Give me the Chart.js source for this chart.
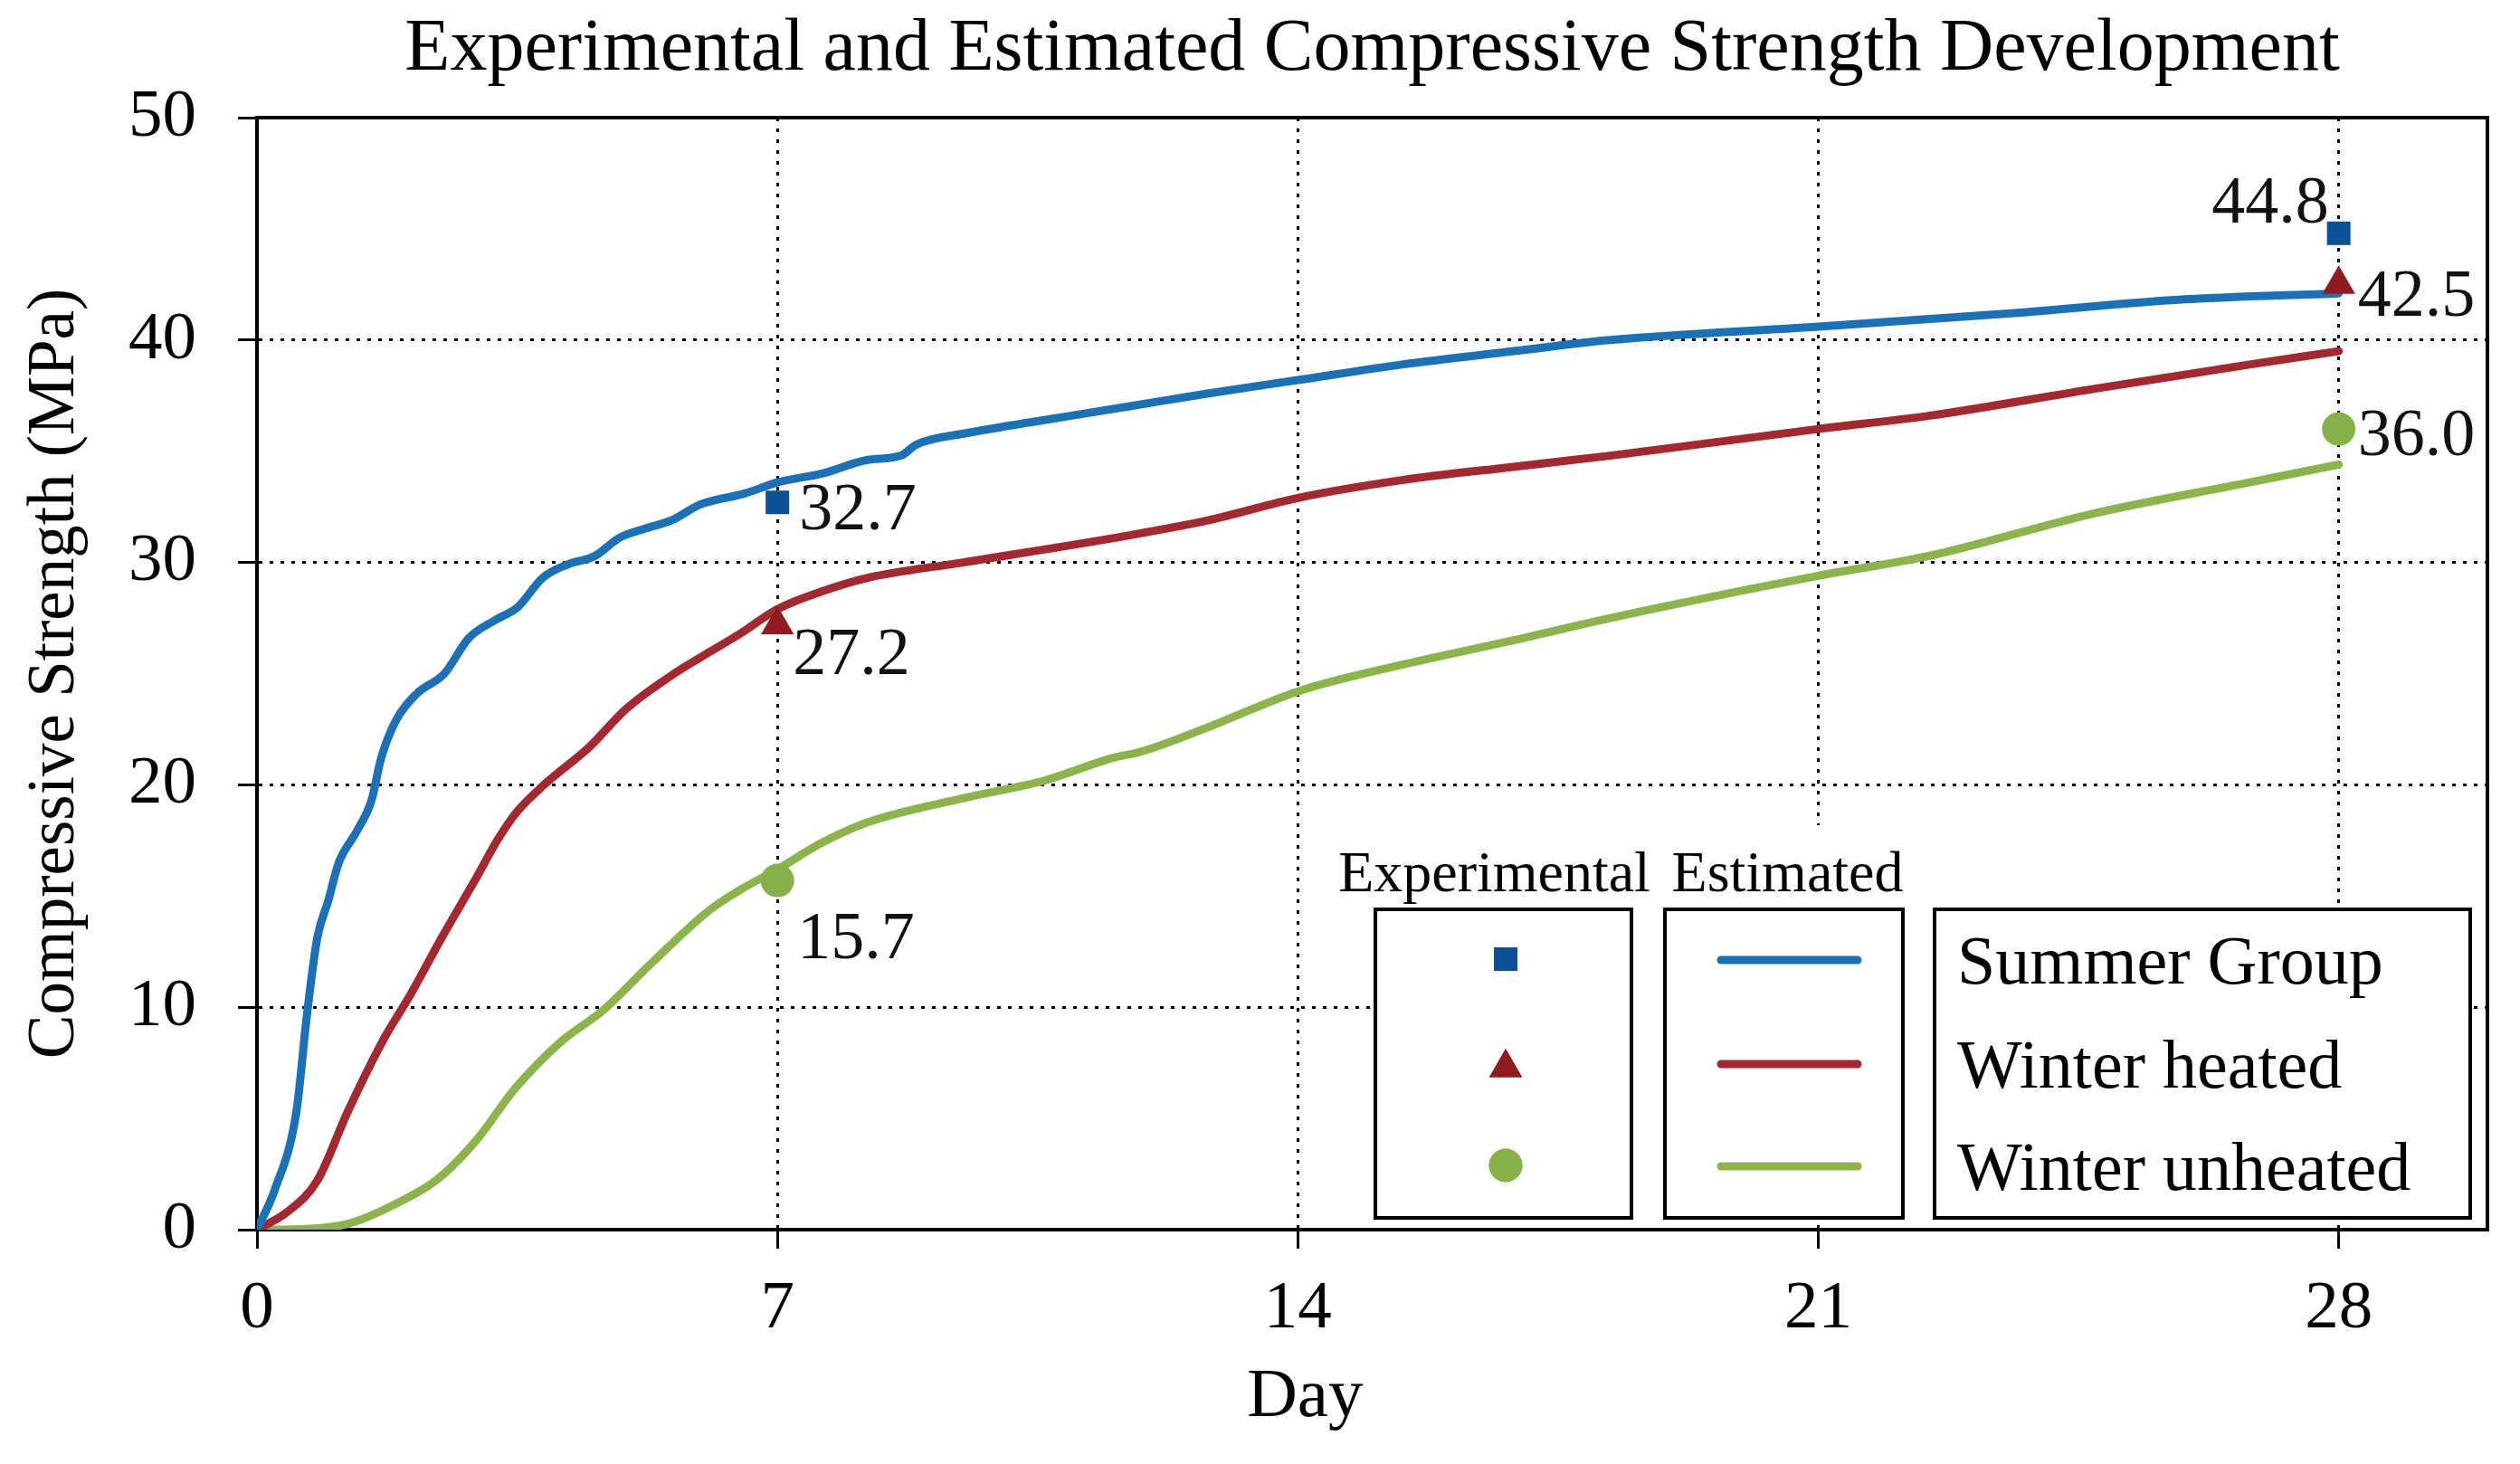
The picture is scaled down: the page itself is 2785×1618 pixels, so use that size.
<!DOCTYPE html>
<html><head><meta charset="utf-8">
<script src="https://cdn.jsdelivr.net/npm/chart.js@4"></script>
<style>html,body{margin:0;padding:0;background:#fff;}canvas{display:block;}</style>
</head><body>
<canvas id="c" width="2785" height="1618"></canvas>
<script>
// ---------- data ----------
const titleText = 'Experimental and Estimated Compressive Strength Development';
const xAxisTitle = 'Day';
const yAxisTitle = 'Compressive Strength (MPa)';
const xTickValues = [0, 7, 14, 21, 28];
const yTickValues = [0, 10, 20, 30, 40, 50];
const seriesNames = ['Summer Group', 'Winter heated', 'Winter unheated'];
const legendHeaders = ['Experimental', 'Estimated'];

const expDays = [7, 28];
const summerExp = [32.7, 44.8];
const heatedExp = [27.2, 42.5];
const unheatedExp = [15.7, 36.0];

const summerDays = [0, 0.24, 0.53, 0.67, 0.81, 0.96, 1.1, 1.34, 1.54, 1.67, 1.87, 2.15, 2.52, 2.85, 3.2, 3.51, 3.84, 4.17, 4.55, 4.87, 5.2, 5.58, 5.96, 6.56, 7.0, 7.6, 8.2, 8.66, 8.87, 9.52, 10.4, 11.7, 12.8, 14, 15.4, 16.9, 18.2, 21, 23.6, 25.8, 28];
const summerEst = [0, 1.8, 5.3, 9.6, 13.1, 14.8, 16.5, 17.9, 19.3, 21.2, 22.9, 24.1, 25.0, 26.6, 27.4, 28.0, 29.3, 29.9, 30.3, 31.1, 31.5, 31.9, 32.6, 33.1, 33.6, 34.0, 34.6, 34.8, 35.3, 35.8, 36.3, 37.0, 37.6, 38.2, 38.9, 39.5, 40.0, 40.6, 41.2, 41.8, 42.1];

const heatedDays = [0, 0.41, 0.81, 1.22, 1.71, 2.07, 2.48, 2.93, 3.25, 3.5, 3.86, 4.47, 4.96, 5.61, 6.1, 6.5, 7.0, 7.6, 8.2, 9.5, 11.7, 12.8, 14, 15.4, 16.9, 18.2, 21, 22.5, 24.7, 26.8, 28];
const heatedEst = [0, 0.8, 2.2, 5.3, 8.6, 10.6, 13.1, 15.7, 17.6, 18.8, 20.0, 21.7, 23.4, 25.0, 26.0, 26.8, 27.9, 28.7, 29.3, 30.0, 31.2, 31.9, 32.9, 33.7, 34.3, 34.8, 36.0, 36.6, 37.8, 38.9, 39.5];

const unheatedDays = [0, 0.6, 1.22, 1.83, 2.44, 2.97, 3.46, 4.07, 4.67, 5.28, 6.1, 6.51, 7.0, 7.6, 8.2, 9.5, 10.6, 11.5, 11.9, 12.8, 14, 15.4, 16.9, 18.2, 21, 22.5, 24.7, 26.8, 28];
const unheatedEst = [0, 0.02, 0.26, 1.1, 2.3, 4.1, 6.3, 8.4, 9.9, 11.9, 14.4, 15.3, 16.2, 17.4, 18.3, 19.4, 20.2, 21.2, 21.5, 22.6, 24.2, 25.4, 26.5, 27.5, 29.4, 30.3, 32.2, 33.6, 34.4];

// ---------- styles ----------
const FONT = "'Liberation Serif', 'Times New Roman', serif";
const lineColors = ['#1a71b8', '#a3282f', '#8bb54b'];
const markerColors = ['#0c5096', '#8f1d1f', '#86b04a'];
const markerStyles = ['rect', 'triangle', 'circle'];
const markerRadius = [18.4, 21, 18.5];
// label offsets relative to the point pixel
const labelOffsets = [
  [{dx: 24, dy: 10, align: 'left'}, {dx: -11, dy: -31, align: 'right'}],
  [{dx: 17, dy: 35, align: 'left'}, {dx: 21, dy: 15, align: 'left'}],
  [{dx: 22, dy: 66, align: 'left'}, {dx: 21, dy: 9, align: 'left'}]
];

const toXY = (xs, ys) => xs.map((x, i) => ({x: x, y: ys[i]}));
const expSeries = [summerExp, heatedExp, unheatedExp];
const estSeries = [[summerDays, summerEst], [heatedDays, heatedEst], [unheatedDays, unheatedEst]];

const datasets = [];
expSeries.forEach((vals, i) => {
  datasets.push({
    label: seriesNames[i] + ' (Experimental)',
    data: toXY(expDays, vals),
    showLine: false,
    pointStyle: markerStyles[i],
    pointRadius: markerRadius[i],
    pointHoverRadius: markerRadius[i],
    pointBackgroundColor: markerColors[i],
    pointBorderColor: markerColors[i],
    pointBorderWidth: 0,
    order: 0,
    isExp: true,
    seriesIndex: i
  });
});
estSeries.forEach((s, i) => {
  datasets.push({
    label: seriesNames[i] + ' (Estimated)',
    data: toXY(s[0], s[1]),
    showLine: true,
    borderColor: lineColors[i],
    borderWidth: 9,
    pointRadius: 0,
    cubicInterpolationMode: 'monotone',
    borderCapStyle: 'round',
    borderJoinStyle: 'round',
    order: 1
  });
});

// ---------- plugins ----------
const bgPlugin = {
  id: 'bg',
  beforeDraw(chart) {
    const ctx = chart.ctx;
    ctx.save();
    ctx.fillStyle = '#fff';
    ctx.fillRect(0, 0, chart.width, chart.height);
    ctx.restore();
  }
};

const labelPlugin = {
  id: 'pointLabels',
  afterDatasetsDraw(chart) {
    const ctx = chart.ctx;
    ctx.save();
    ctx.font = '74px ' + FONT;
    ctx.fillStyle = '#111';
    ctx.textBaseline = 'middle';
    chart.data.datasets.forEach((ds, di) => {
      if (!ds.isExp) return;
      const meta = chart.getDatasetMeta(di);
      meta.data.forEach((pt, j) => {
        const off = labelOffsets[ds.seriesIndex][j];
        ctx.textAlign = off.align;
        ctx.fillText(ds.data[j].y.toFixed(1), pt.x + off.dx, pt.y + off.dy);
      });
    });
    ctx.restore();
  }
};

const framePlugin = {
  id: 'frame',
  afterDraw(chart) {
    const {ctx, chartArea: a} = chart;
    ctx.save();
    ctx.strokeStyle = '#000';
    ctx.lineWidth = 4;
    ctx.beginPath();
    ctx.moveTo(a.left - 2, a.top);
    ctx.lineTo(a.right, a.top);
    ctx.lineTo(a.right, a.bottom + 2);
    ctx.stroke();
    // x axis title, centred under day 14
    const xs = chart.scales.x;
    ctx.fillStyle = '#000';
    ctx.font = '77px ' + FONT;
    ctx.textAlign = 'center';
    ctx.textBaseline = 'alphabetic';
    ctx.fillText(xAxisTitle, xs.getPixelForValue(14) + 8, 1565);
    ctx.restore();
  }
};

const legendPlugin = {
  id: 'customLegend',
  afterDraw(chart) {
    const ctx = chart.ctx;
    const boxes = [[1520, 1803], [1840, 2103], [2138, 2730]];
    const top = 1005, bottom = 1346;
    const rows = [1061, 1176, 1289];
    ctx.save();
    ctx.fillStyle = '#fff';
    ctx.fillRect(1470, 912, 640, top - 912);
    ctx.fillRect(boxes[0][0], top, boxes[2][1] - boxes[0][0], bottom - top);
    ctx.strokeStyle = '#000';
    ctx.lineWidth = 4;
    boxes.forEach(b => ctx.strokeRect(b[0], top, b[1] - b[0], bottom - top));
    // headers
    ctx.fillStyle = '#000';
    ctx.font = '64px ' + FONT;
    ctx.textAlign = 'center';
    ctx.textBaseline = 'alphabetic';
    ctx.fillText(legendHeaders[0], (boxes[0][0] + boxes[0][1]) / 2 - 10, 985);
    ctx.fillText(legendHeaders[1], (boxes[1][0] + boxes[1][1]) / 2 + 4, 985);
    // rows
    const markerY = [1060, 1180, 1288];
    seriesNames.forEach((name, i) => {
      ctx.fillStyle = markerColors[i];
      ctx.strokeStyle = markerColors[i];
      Chart.helpers.drawPoint(ctx, {pointStyle: markerStyles[i], radius: markerRadius[i], rotation: 0, borderWidth: 0}, 1664, markerY[i]);
      ctx.fill();
      ctx.beginPath();
      ctx.strokeStyle = lineColors[i];
      ctx.lineWidth = 9;
      ctx.lineCap = 'round';
      ctx.moveTo(1902, rows[i]);
      ctx.lineTo(2053, rows[i]);
      ctx.stroke();
      ctx.fillStyle = '#000';
      ctx.font = '76px ' + FONT;
      ctx.textAlign = 'left';
      ctx.fillText(name, 2163, rows[i] + 26);
    });
    ctx.restore();
  }
};

Chart.defaults.font.family = FONT;
Chart.defaults.color = '#000';

const gridOpts = {
  color: '#000', lineWidth: 3,
  drawTicks: true, tickLength: 21, tickColor: '#000', tickWidth: 3, tickBorderDash: []
};
const borderOpts = {display: true, color: '#000', width: 4, dash: [4, 8]};

new Chart(document.getElementById('c'), {
  type: 'scatter',
  data: {datasets: datasets},
  plugins: [bgPlugin, labelPlugin, framePlugin, legendPlugin],
  options: {
    responsive: false,
    animation: false,
    devicePixelRatio: 1,
    layout: {padding: {left: 0, right: 36, top: 0, bottom: 0}},
    plugins: {
      legend: {display: false},
      tooltip: {enabled: false},
      title: {
        display: true,
        text: titleText,
        fullSize: false,
        color: '#000',
        font: {family: FONT, size: 82, weight: 'normal', lineHeight: 1.2},
        padding: {top: 6, bottom: 25.6}
      }
    },
    scales: {
      x: {
        type: 'linear',
        min: 0, max: 30,
        afterBuildTicks: s => { s.ticks = xTickValues.map(v => ({value: v})); },
        afterFit: s => { s.height = 259; },
        ticks: {font: {size: 75, family: FONT}, color: '#000', padding: 22, maxRotation: 0},
        grid: gridOpts,
        border: borderOpts
      },
      y: {
        type: 'linear',
        min: 0, max: 50,
        afterBuildTicks: s => { s.ticks = yTickValues.map(v => ({value: v})); },
        afterFit: s => { s.width = 284; },
        ticks: {font: {size: 75, family: FONT}, color: '#000', padding: 46},
        grid: gridOpts,
        border: borderOpts,
        title: {
          display: true, text: yAxisTitle, color: '#000',
          font: {family: FONT, size: 73, weight: 'normal', lineHeight: 1.2},
          padding: {top: 18, bottom: 0}
        }
      }
    }
  }
});
</script>
</body></html>
